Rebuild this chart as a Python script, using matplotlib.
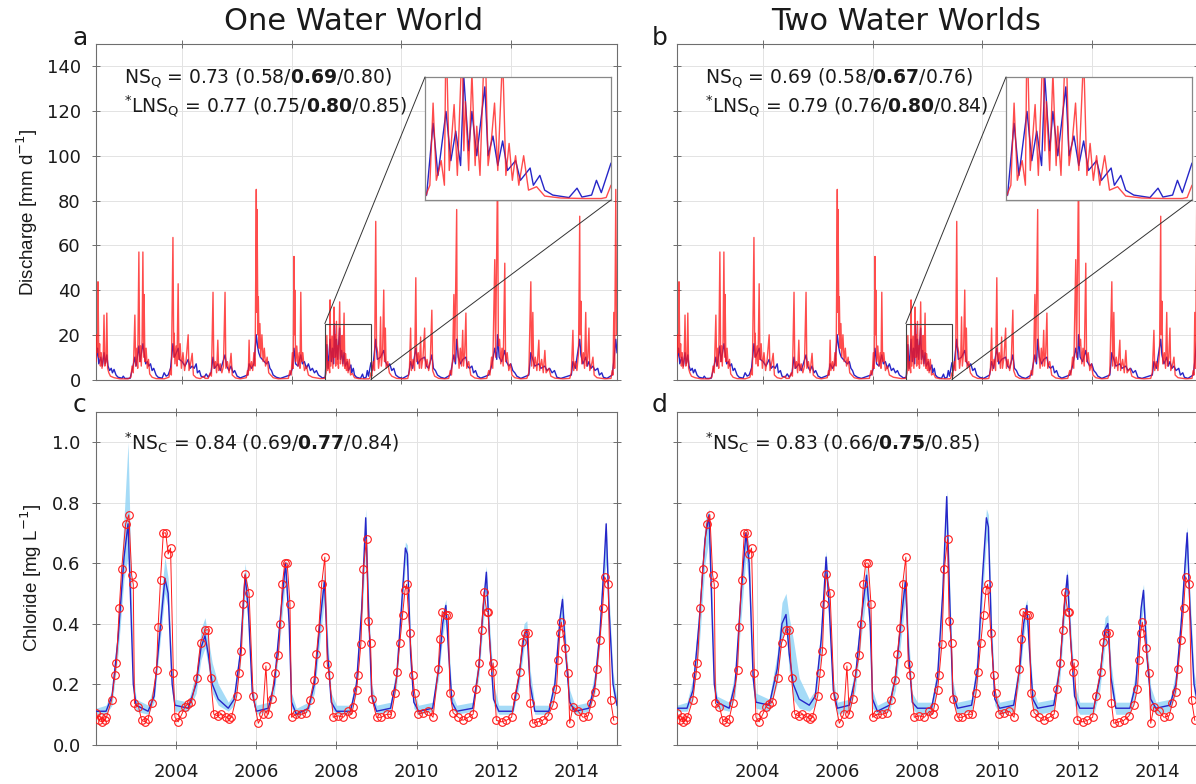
import matplotlib
matplotlib.use("Agg")
import matplotlib.pyplot as plt
from matplotlib.patches import Rectangle, ConnectionPatch
import numpy as np

plt.rcParams['font.family'] = ['DejaVu Sans']
plt.rcParams['mathtext.fontset'] = 'dejavusans'

# ---------------- data (decimal years) ----------------
titles = ["One Water World", "Two Water Worlds"]
panel_letters = ["a", "b", "c", "d"]
ns_q_text = [r"NS$_{\mathrm{Q}}$ = 0.73 (0.58/$\mathbf{0.69}$/0.80)",
             r"NS$_{\mathrm{Q}}$ = 0.69 (0.58/$\mathbf{0.67}$/0.76)"]
lns_q_text = [r"$^{*}$LNS$_{\mathrm{Q}}$ = 0.77 (0.75/$\mathbf{0.80}$/0.85)",
              r"$^{*}$LNS$_{\mathrm{Q}}$ = 0.79 (0.76/$\mathbf{0.80}$/0.84)"]
ns_c_text = [r"$^{*}$NS$_{\mathrm{C}}$ = 0.84 (0.69/$\mathbf{0.77}$/0.84)",
             r"$^{*}$NS$_{\mathrm{C}}$ = 0.83 (0.66/$\mathbf{0.75}$/0.85)"]
year_ticks = [2004, 2006, 2008, 2010, 2012, 2014]
q_grid_ticks = [2004.144, 2006.882, 2009.620, 2012.358]   # datenum 732000..735000
zoom_window = [2007.71, 2008.86]
zoom_qmax = 25

# observed discharge (peaks and troughs), mm/d
q_obs_t = [2002.00, 2002.02, 2002.04, 2002.05, 2002.07, 2002.09, 2002.11, 2002.13, 2002.15, 2002.18, 2002.20, 2002.22, 2002.25, 2002.27, 2002.29, 2002.32, 2002.36, 2002.45, 2002.60, 2002.80,
           2002.87, 2002.90, 2002.93, 2002.97, 2002.99, 2003.02, 2003.04, 2003.07, 2003.09, 2003.11, 2003.13, 2003.15, 2003.17, 2003.19, 2003.20, 2003.22, 2003.25, 2003.28, 2003.31, 2003.34, 2003.40, 2003.50, 2003.70,
           2003.82, 2003.86, 2003.88, 2003.92, 2003.94, 2003.95, 2003.97, 2004.00, 2004.02, 2004.05, 2004.07, 2004.10, 2004.13, 2004.17, 2004.21, 2004.25, 2004.30, 2004.32, 2004.36, 2004.40, 2004.43, 2004.50, 2004.60, 2004.70, 2004.72,
           2004.80, 2004.85, 2004.88, 2004.92, 2004.94, 2004.98, 2005.01, 2005.04, 2005.06, 2005.10, 2005.14, 2005.18, 2005.22, 2005.24, 2005.28, 2005.32, 2005.37, 2005.40, 2005.48, 2005.60,
           2005.75, 2005.78, 2005.80, 2005.82, 2005.84, 2005.88, 2005.91, 2005.94, 2005.97, 2006.00, 2006.01, 2006.02, 2006.04, 2006.05, 2006.07, 2006.09, 2006.11, 2006.14, 2006.17, 2006.20, 2006.23, 2006.27, 2006.31, 2006.36, 2006.42, 2006.55,
           2006.80, 2006.84, 2006.87, 2006.90, 2006.92, 2006.94, 2006.95, 2006.96, 2006.98, 2007.01, 2007.04, 2007.07, 2007.09, 2007.11, 2007.13, 2007.16, 2007.20, 2007.25, 2007.30, 2007.40, 2007.60,
           2007.71, 2007.74, 2007.76, 2007.78, 2007.81, 2007.83, 2007.84, 2007.86, 2007.89, 2007.91, 2007.94, 2007.95, 2007.96, 2007.98, 2008.00, 2008.02, 2008.03, 2008.05, 2008.08, 2008.10, 2008.12, 2008.14, 2008.16, 2008.19, 2008.21, 2008.23, 2008.25, 2008.27, 2008.29, 2008.32, 2008.35, 2008.40, 2008.45, 2008.55, 2008.70, 2008.80,
           2008.83, 2008.86, 2008.88, 2008.92, 2008.95, 2008.98, 2009.00, 2009.03, 2009.05, 2009.08, 2009.10, 2009.12, 2009.15, 2009.18, 2009.20, 2009.22, 2009.24, 2009.28, 2009.32, 2009.38, 2009.50, 2009.70,
           2009.78, 2009.82, 2009.85, 2009.87, 2009.91, 2009.95, 2009.98, 2010.00, 2010.04, 2010.07, 2010.10, 2010.12, 2010.16, 2010.20, 2010.22, 2010.26, 2010.30, 2010.34, 2010.38, 2010.40, 2010.45, 2010.55, 2010.70,
           2010.80, 2010.84, 2010.87, 2010.90, 2010.93, 2010.95, 2011.00, 2011.01, 2011.03, 2011.06, 2011.09, 2011.12, 2011.15, 2011.17, 2011.20, 2011.23, 2011.25, 2011.30, 2011.35, 2011.45, 2011.60,
           2011.75, 2011.80, 2011.83, 2011.87, 2011.90, 2011.95, 2011.97, 2012.02, 2012.04, 2012.07, 2012.10, 2012.13, 2012.16, 2012.20, 2012.22, 2012.26, 2012.30, 2012.34, 2012.38, 2012.45, 2012.60,
           2012.75, 2012.80, 2012.85, 2012.87, 2012.90, 2012.92, 2012.96, 2013.00, 2013.05, 2013.07, 2013.12, 2013.16, 2013.20, 2013.23, 2013.30, 2013.35, 2013.45, 2013.65,
           2013.82, 2013.86, 2013.90, 2013.92, 2013.96, 2014.00, 2014.04, 2014.07, 2014.08, 2014.10, 2014.12, 2014.16, 2014.19, 2014.22, 2014.24, 2014.27, 2014.30, 2014.32, 2014.36, 2014.40, 2014.43, 2014.50, 2014.70,
           2014.85, 2014.88, 2014.90, 2014.92, 2014.94, 2014.97, 2014.99, 2015.00]
q_obs_v = [8, 20, 12, 43.7, 10, 16, 6, 12, 5, 10, 28.8, 6, 8, 29.7, 5, 3, 1.5, 0.8, 0.3, 0.3,
           1, 6, 3, 28.8, 6, 14, 5, 57, 8, 15, 6, 18, 57, 10, 38, 8, 14, 5, 9, 2.5, 1, 0.4, 0.3,
           1, 5, 2, 63.5, 10, 20.7, 7, 15, 6, 42.8, 9, 16, 5, 12, 4, 9, 20, 4, 7, 11.7, 2, 0.8, 0.4, 1.5, 0.5,
           0.5, 3, 1.5, 39, 5, 8, 3, 17.6, 4, 7, 3, 6, 39, 5, 8, 3, 11.7, 2, 0.7, 0.3,
           0.8, 4, 2, 17.6, 4, 8, 4, 12, 6, 85, 30, 76, 20, 37, 14, 25, 10, 20, 8, 14, 6, 10, 3, 2, 0.8, 0.3,
           0.5, 4, 2, 12, 5, 55, 20, 40, 8, 15, 6, 12, 5, 39, 8, 12, 4, 6, 2, 1, 0.4,
           0.5, 3, 19.7, 4, 8, 3, 35.6, 6, 19.4, 5, 32.4, 10, 20, 6, 26, 7, 15, 5, 34.7, 7, 12, 19.7, 6, 29.7, 5, 11.5, 4, 9, 3, 9, 2, 2.7, 0.8, 0.4, 0.3, 0.3,
           0.5, 3, 1.5, 8, 4, 70.7, 15, 12, 5, 10, 28, 6, 12, 40, 8, 23, 5, 8, 3, 1.5, 0.5, 0.3,
           0.5, 4, 23, 4, 9, 4, 45.5, 8, 12, 5, 19, 5, 10, 23, 5, 9, 4, 8, 31, 4, 1.5, 0.5, 0.3,
           0.5, 4, 2, 10, 38, 8, 76, 20, 12, 5, 14, 6, 22, 6, 12, 29.7, 5, 8, 2, 0.7, 0.3,
           0.5, 4, 2, 10, 5, 53.6, 10, 95, 15, 18, 7, 14, 6, 52, 8, 12, 4, 7, 2, 0.8, 0.3,
           0.5, 3, 43.7, 6, 30, 5, 10, 4, 17.6, 4, 9, 3, 13, 3, 5, 1.5, 0.6, 0.3,
           0.5, 3, 22, 4, 8, 4, 12, 73, 20, 35, 7, 12, 5, 30, 6, 10, 23, 4, 6, 10, 2, 0.8, 0.3,
           0.5, 4, 2, 30, 5, 85, 20, 30]

# modelled discharge (median), mm/d
q_mod_t = [2002.00, 2002.04, 2002.07, 2002.12, 2002.16, 2002.20, 2002.23, 2002.27, 2002.30, 2002.34, 2002.38, 2002.41, 2002.45, 2002.50, 2002.55, 2002.65, 2002.68, 2002.72, 2002.85,
           2002.90, 2002.97, 2003.00, 2003.07, 2003.10, 2003.17, 2003.20, 2003.24, 2003.28, 2003.32, 2003.36, 2003.40, 2003.44, 2003.50, 2003.55, 2003.65,
           2003.70, 2003.75, 2003.80, 2003.86, 2003.92, 2003.96, 2004.05, 2004.08, 2004.15, 2004.22, 2004.30, 2004.35, 2004.40, 2004.45, 2004.50, 2004.53, 2004.58, 2004.62, 2004.70, 2004.75, 2004.80,
           2004.87, 2004.92, 2004.96, 2005.04, 2005.10, 2005.22, 2005.26, 2005.32, 2005.37, 2005.42, 2005.46, 2005.52, 2005.60,
           2005.78, 2005.82, 2005.88, 2005.94, 2006.00, 2006.03, 2006.06, 2006.10, 2006.15, 2006.20, 2006.25, 2006.30, 2006.34, 2006.38, 2006.42, 2006.50, 2006.60,
           2006.84, 2006.90, 2006.94, 2006.98, 2007.04, 2007.11, 2007.15, 2007.20, 2007.25, 2007.30, 2007.35, 2007.40, 2007.45, 2007.50, 2007.55, 2007.65,
           2007.72, 2007.76, 2007.79, 2007.84, 2007.87, 2007.90, 2007.93, 2007.95, 2007.98, 2008.00, 2008.03, 2008.08, 2008.10, 2008.13, 2008.16, 2008.19, 2008.22, 2008.27, 2008.30, 2008.36, 2008.38, 2008.42, 2008.45, 2008.50, 2008.60, 2008.65, 2008.68, 2008.74, 2008.77, 2008.80, 2008.86,
           2008.90, 2008.98, 2009.02, 2009.10, 2009.18, 2009.22, 2009.28, 2009.33, 2009.38, 2009.43, 2009.48, 2009.55, 2009.65,
           2009.80, 2009.85, 2009.90, 2009.98, 2010.03, 2010.10, 2010.20, 2010.25, 2010.30, 2010.38, 2010.42, 2010.47, 2010.52, 2010.60, 2010.70,
           2010.84, 2010.93, 2010.97, 2011.00, 2011.04, 2011.10, 2011.15, 2011.23, 2011.27, 2011.32, 2011.38, 2011.42, 2011.47, 2011.52, 2011.60,
           2011.80, 2011.87, 2011.95, 2012.00, 2012.02, 2012.06, 2012.12, 2012.20, 2012.24, 2012.30, 2012.35, 2012.40, 2012.45, 2012.50, 2012.60,
           2012.80, 2012.85, 2012.90, 2012.95, 2013.05, 2013.10, 2013.20, 2013.25, 2013.32, 2013.38, 2013.44, 2013.50, 2013.60,
           2013.86, 2013.90, 2013.96, 2014.07, 2014.10, 2014.15, 2014.22, 2014.26, 2014.30, 2014.35, 2014.40, 2014.45, 2014.52, 2014.56, 2014.62, 2014.66, 2014.75,
           2014.88, 2014.92, 2014.97, 2015.00]
q_mod_v = [8, 14, 7, 10, 6, 12, 7, 11, 6, 4, 5, 3, 4.5, 2, 1, 0.6, 1.5, 0.5, 0.5,
           4, 10, 6, 15, 8, 16, 12, 7, 8, 6, 7, 4, 5, 2, 1, 0.6,
           3, 1.5, 2, 5, 16, 10, 14, 9, 8, 6, 9, 5, 6, 5, 7, 3, 4, 1.5, 1, 2.5, 1,
           3, 10, 5, 7, 4, 11, 6, 4, 6, 3, 4, 1.5, 0.7,
           2, 7, 5, 7, 20, 15, 12, 10, 9, 8, 7, 8, 5, 4, 2, 1, 0.5,
           2, 5, 14, 7, 6, 11, 7, 8, 5, 7, 4, 5, 3, 4, 2, 0.7,
           1, 15.6, 5, 18, 8, 14, 7, 25, 10, 18, 9, 23, 9, 13, 7, 12, 6, 8, 4, 6.5, 3, 5, 2, 1, 0.5, 2.4, 0.6, 1, 4, 1.5, 7.5,
           4, 18, 9, 10, 13, 8, 6, 7, 4, 5, 2, 1, 0.5,
           2, 8, 5, 14, 7, 9, 10, 6, 5, 11, 5, 4, 2, 1, 0.5,
           2, 11, 7, 18, 10, 7, 9, 10, 6, 5, 6, 3, 4, 1.5, 0.6,
           2, 6, 14, 9, 20, 10, 8, 13, 8, 6, 7, 4, 3, 1.5, 0.5,
           2, 12, 9, 6, 7, 5, 6, 4, 5, 3, 4, 1, 0.5,
           2, 8, 5, 18, 11, 7, 10, 6, 8, 5, 6, 4, 5, 2, 3, 1, 0.5,
           2, 8, 18, 12]

# observed chloride, mg/L
cl_obs_t = [2002.00, 2002.08, 2002.12, 2002.16, 2002.22, 2002.26, 2002.39, 2002.47, 2002.51, 2002.58, 2002.64, 2002.74, 2002.82, 2002.89, 2002.93, 2002.96,
            2003.06, 2003.14, 2003.22, 2003.30, 2003.39, 2003.51, 2003.55, 2003.61, 2003.68, 2003.74, 2003.80, 2003.86, 2003.93, 2003.97,
            2004.05, 2004.14, 2004.22, 2004.30, 2004.38, 2004.51, 2004.61, 2004.72, 2004.80, 2004.86, 2004.94,
            2005.04, 2005.13, 2005.25, 2005.33, 2005.38, 2005.51, 2005.57, 2005.63, 2005.67, 2005.72, 2005.82, 2005.92,
            2006.05, 2006.16, 2006.24, 2006.30, 2006.38, 2006.46, 2006.55, 2006.60, 2006.65, 2006.71, 2006.77, 2006.84, 2006.88,
            2007.00, 2007.12, 2007.25, 2007.34, 2007.44, 2007.50, 2007.56, 2007.63, 2007.71, 2007.77, 2007.82, 2007.92,
            2008.04, 2008.17, 2008.30, 2008.38, 2008.42, 2008.50, 2008.54, 2008.61, 2008.67, 2008.75, 2008.79, 2008.85, 2008.89,
            2009.00, 2009.12, 2009.25, 2009.37, 2009.46, 2009.51, 2009.58, 2009.65, 2009.71, 2009.75, 2009.83, 2009.90, 2009.95,
            2010.04, 2010.16, 2010.29, 2010.41, 2010.54, 2010.58, 2010.64, 2010.73, 2010.79, 2010.83, 2010.91,
            2011.04, 2011.16, 2011.29, 2011.41, 2011.49, 2011.56, 2011.62, 2011.68, 2011.75, 2011.78, 2011.87, 2011.91, 2011.99,
            2012.12, 2012.24, 2012.37, 2012.45, 2012.57, 2012.64, 2012.70, 2012.78, 2012.84, 2012.90,
            2013.03, 2013.15, 2013.28, 2013.40, 2013.49, 2013.53, 2013.57, 2013.61, 2013.70, 2013.78, 2013.82, 2013.90,
            2014.03, 2014.15, 2014.28, 2014.36, 2014.44, 2014.50, 2014.57, 2014.64, 2014.69, 2014.78, 2014.84, 2014.92]
cl_obs_v = [0.105, 0.08, 0.09, 0.075, 0.08, 0.09, 0.147, 0.23, 0.27, 0.45, 0.58, 0.73, 0.76, 0.56, 0.53, 0.136,
            0.125, 0.08, 0.075, 0.085, 0.136, 0.246, 0.39, 0.545, 0.70, 0.70, 0.63, 0.65, 0.235, 0.09,
            0.075, 0.10, 0.125, 0.135, 0.14, 0.22, 0.337, 0.378, 0.38, 0.22, 0.10,
            0.095, 0.10, 0.09, 0.085, 0.09, 0.16, 0.236, 0.31, 0.466, 0.565, 0.50, 0.16,
            0.07, 0.10, 0.26, 0.10, 0.15, 0.236, 0.296, 0.40, 0.53, 0.60, 0.60, 0.466, 0.09,
            0.10, 0.10, 0.105, 0.147, 0.213, 0.30, 0.384, 0.53, 0.62, 0.266, 0.23, 0.09,
            0.095, 0.09, 0.11, 0.10, 0.125, 0.18, 0.23, 0.334, 0.58, 0.68, 0.41, 0.336, 0.15,
            0.09, 0.09, 0.10, 0.10, 0.17, 0.24, 0.336, 0.43, 0.51, 0.53, 0.37, 0.23, 0.17,
            0.10, 0.105, 0.11, 0.09, 0.25, 0.35, 0.44, 0.43, 0.43, 0.17, 0.105,
            0.09, 0.08, 0.09, 0.10, 0.185, 0.27, 0.38, 0.505, 0.44, 0.44, 0.24, 0.27, 0.08,
            0.075, 0.08, 0.09, 0.16, 0.24, 0.34, 0.37, 0.37, 0.136, 0.07,
            0.075, 0.08, 0.095, 0.13, 0.185, 0.28, 0.37, 0.405, 0.32, 0.235, 0.07, 0.125,
            0.11, 0.09, 0.095, 0.136, 0.175, 0.25, 0.345, 0.45, 0.555, 0.53, 0.146, 0.08]

# modelled chloride, One Water World: median, lower and upper bound
cl_m1_t = [2002.00, 2002.25, 2002.40, 2002.55, 2002.70, 2002.80, 2002.87, 2002.93, 2003.00, 2003.30, 2003.45, 2003.60, 2003.72, 2003.80, 2003.90, 2003.97,
           2004.30, 2004.50, 2004.62, 2004.72, 2004.80, 2004.90, 2005.05, 2005.30, 2005.45, 2005.60, 2005.72, 2005.80, 2005.90,
           2006.00, 2006.30, 2006.45, 2006.60, 2006.73, 2006.82, 2006.88, 2007.00, 2007.30, 2007.45, 2007.60, 2007.70, 2007.78, 2007.87,
           2008.00, 2008.35, 2008.50, 2008.63, 2008.73, 2008.80, 2008.88, 2009.00, 2009.35, 2009.50, 2009.62, 2009.72, 2009.77, 2009.85, 2009.93,
           2010.05, 2010.40, 2010.55, 2010.65, 2010.73, 2010.80, 2010.88, 2011.00, 2011.40, 2011.55, 2011.66, 2011.74, 2011.82, 2011.92,
           2012.05, 2012.40, 2012.55, 2012.68, 2012.75, 2012.83, 2012.95, 2013.30, 2013.45, 2013.58, 2013.64, 2013.72, 2013.82, 2013.95,
           2014.30, 2014.45, 2014.58, 2014.68, 2014.73, 2014.80, 2014.90, 2015.00]
cl_m1_v = [0.11, 0.11, 0.16, 0.35, 0.62, 0.73, 0.45, 0.20, 0.13, 0.11, 0.16, 0.38, 0.55, 0.50, 0.20, 0.13,
           0.12, 0.20, 0.32, 0.36, 0.30, 0.20, 0.15, 0.12, 0.15, 0.30, 0.56, 0.45, 0.17,
           0.11, 0.12, 0.20, 0.42, 0.60, 0.40, 0.14, 0.10, 0.12, 0.20, 0.42, 0.54, 0.30, 0.14,
           0.11, 0.11, 0.20, 0.45, 0.75, 0.45, 0.16, 0.11, 0.12, 0.22, 0.45, 0.65, 0.63, 0.30, 0.14,
           0.11, 0.12, 0.25, 0.40, 0.46, 0.30, 0.14, 0.11, 0.12, 0.25, 0.45, 0.57, 0.35, 0.15,
           0.11, 0.11, 0.22, 0.36, 0.38, 0.20, 0.11, 0.11, 0.20, 0.42, 0.48, 0.30, 0.14, 0.11,
           0.12, 0.20, 0.38, 0.60, 0.73, 0.45, 0.20, 0.13]
cl_m1_lo = [0.10, 0.10, 0.13, 0.30, 0.55, 0.62, 0.40, 0.17, 0.11, 0.10, 0.14, 0.34, 0.50, 0.45, 0.17, 0.11,
            0.11, 0.17, 0.28, 0.32, 0.26, 0.17, 0.13, 0.11, 0.13, 0.26, 0.50, 0.40, 0.15,
            0.10, 0.11, 0.17, 0.36, 0.55, 0.35, 0.12, 0.09, 0.11, 0.17, 0.36, 0.48, 0.26, 0.12,
            0.10, 0.10, 0.17, 0.40, 0.65, 0.40, 0.14, 0.10, 0.11, 0.19, 0.40, 0.60, 0.58, 0.26, 0.12,
            0.10, 0.11, 0.22, 0.36, 0.42, 0.26, 0.12, 0.10, 0.11, 0.22, 0.40, 0.50, 0.30, 0.13,
            0.10, 0.10, 0.19, 0.32, 0.35, 0.17, 0.10, 0.10, 0.17, 0.37, 0.42, 0.26, 0.12, 0.10,
            0.11, 0.17, 0.34, 0.55, 0.60, 0.40, 0.17, 0.11]
cl_m1_hi = [0.12, 0.13, 0.18, 0.40, 0.75, 1.00, 0.60, 0.25, 0.15, 0.13, 0.20, 0.45, 0.62, 0.55, 0.25, 0.15,
            0.14, 0.24, 0.38, 0.42, 0.35, 0.27, 0.20, 0.14, 0.17, 0.34, 0.60, 0.50, 0.20,
            0.13, 0.14, 0.23, 0.46, 0.62, 0.45, 0.17, 0.12, 0.14, 0.24, 0.48, 0.58, 0.36, 0.17,
            0.13, 0.13, 0.23, 0.50, 0.78, 0.50, 0.20, 0.13, 0.14, 0.26, 0.50, 0.67, 0.66, 0.35, 0.17,
            0.13, 0.14, 0.30, 0.44, 0.48, 0.34, 0.17, 0.13, 0.14, 0.30, 0.50, 0.59, 0.40, 0.20,
            0.13, 0.13, 0.26, 0.40, 0.41, 0.25, 0.13, 0.13, 0.23, 0.45, 0.50, 0.35, 0.18, 0.13,
            0.14, 0.24, 0.44, 0.65, 0.74, 0.50, 0.24, 0.15]

# modelled chloride, Two Water Worlds: median, lower and upper bound
cl_m2_t = cl_m1_t
cl_m2_v = [0.12, 0.12, 0.18, 0.40, 0.68, 0.76, 0.45, 0.20, 0.14, 0.12, 0.20, 0.50, 0.70, 0.60, 0.22, 0.14,
           0.13, 0.25, 0.40, 0.43, 0.30, 0.20, 0.15, 0.13, 0.16, 0.35, 0.62, 0.45, 0.18,
           0.12, 0.13, 0.22, 0.42, 0.56, 0.40, 0.15, 0.11, 0.13, 0.22, 0.42, 0.54, 0.30, 0.14,
           0.12, 0.12, 0.22, 0.50, 0.82, 0.50, 0.17, 0.12, 0.13, 0.25, 0.55, 0.75, 0.72, 0.35, 0.15,
           0.12, 0.13, 0.25, 0.40, 0.46, 0.30, 0.15, 0.12, 0.13, 0.25, 0.45, 0.56, 0.35, 0.16,
           0.12, 0.12, 0.22, 0.38, 0.40, 0.22, 0.12, 0.12, 0.20, 0.45, 0.51, 0.30, 0.15, 0.12,
           0.13, 0.20, 0.40, 0.60, 0.70, 0.45, 0.20, 0.13]
cl_m2_lo = [0.11, 0.11, 0.15, 0.32, 0.60, 0.68, 0.38, 0.17, 0.12, 0.11, 0.16, 0.42, 0.62, 0.52, 0.18, 0.12,
            0.11, 0.20, 0.35, 0.38, 0.24, 0.15, 0.12, 0.11, 0.13, 0.30, 0.55, 0.40, 0.15,
            0.10, 0.11, 0.18, 0.36, 0.50, 0.35, 0.12, 0.10, 0.11, 0.18, 0.36, 0.48, 0.26, 0.12,
            0.10, 0.10, 0.18, 0.44, 0.74, 0.44, 0.14, 0.10, 0.11, 0.20, 0.48, 0.68, 0.65, 0.30, 0.13,
            0.10, 0.11, 0.21, 0.36, 0.42, 0.26, 0.12, 0.10, 0.11, 0.21, 0.40, 0.50, 0.30, 0.13,
            0.10, 0.10, 0.18, 0.33, 0.36, 0.18, 0.10, 0.10, 0.16, 0.40, 0.45, 0.26, 0.12, 0.10,
            0.11, 0.17, 0.35, 0.55, 0.62, 0.40, 0.17, 0.11]
cl_m2_hi = [0.13, 0.14, 0.22, 0.45, 0.74, 0.78, 0.55, 0.26, 0.16, 0.14, 0.24, 0.56, 0.72, 0.66, 0.28, 0.17,
            0.15, 0.30, 0.47, 0.50, 0.42, 0.35, 0.22, 0.15, 0.18, 0.40, 0.64, 0.50, 0.22,
            0.14, 0.15, 0.26, 0.46, 0.60, 0.45, 0.18, 0.13, 0.15, 0.26, 0.48, 0.58, 0.36, 0.17,
            0.14, 0.14, 0.26, 0.55, 0.84, 0.55, 0.21, 0.14, 0.15, 0.30, 0.60, 0.78, 0.76, 0.40, 0.18,
            0.14, 0.15, 0.30, 0.44, 0.48, 0.34, 0.18, 0.14, 0.15, 0.30, 0.50, 0.58, 0.40, 0.20,
            0.14, 0.14, 0.26, 0.42, 0.43, 0.27, 0.14, 0.14, 0.24, 0.48, 0.53, 0.36, 0.19, 0.14,
            0.15, 0.24, 0.45, 0.66, 0.72, 0.50, 0.24, 0.16]

# ---------------- styles ----------------
RED = '#ff1a1a'
BLUE = '#2626c8'
BAND = '#8fd3f5'
SPINE = '#6e6e6e'
GRID = '#e3e3e3'
TXT = '#1a1a1a'
NARROW = 'Liberation Sans'

W, H = 1196, 784
fig = plt.figure(figsize=(W / 100, H / 100), dpi=100)

def fr(x0, y0, x1, y1):
    return [x0 / W, 1 - y1 / H, (x1 - x0) / W, (y1 - y0) / H]

ax_q = [fig.add_axes(fr(96, 44, 617, 379.5)), fig.add_axes(fr(677, 44, 1198, 379.5))]
ax_c = [fig.add_axes(fr(96, 412, 617, 744.5)), fig.add_axes(fr(677, 412, 1198, 744.5))]

def style(ax, xt, yt, xlabels, ylabels):
    ax.set_xticks(xt)
    ax.set_yticks(yt)
    ax.grid(True, color=GRID, lw=0.7)
    ax.set_axisbelow(True)
    for s in ax.spines.values():
        s.set_color(SPINE)
        s.set_linewidth(0.8)
    ax.tick_params(direction='inout', length=6, width=0.7, color=SPINE,
                   top=True, right=True, labelsize=13, labelcolor=TXT,
                   labelbottom=xlabels, labelleft=ylabels)
    ax.tick_params(axis='y', pad=8)
    ax.tick_params(axis='x', pad=10)

for i in range(2):
    ax = ax_q[i]
    ax.plot(q_mod_t, q_mod_v, color=BLUE, lw=1.0, zorder=2)
    ax.plot(q_obs_t, q_obs_v, color=RED, lw=1.0, alpha=0.78, zorder=3)
    ax.set_xlim(2002, 2015)
    ax.set_ylim(0, 150)
    style(ax, q_grid_ticks, np.arange(0, 141, 20), False, i == 0)
    ax.set_xticklabels([])
    ax.text(0.054, 0.884, ns_q_text[i], transform=ax.transAxes, fontsize=13.5,
            color=TXT, va='baseline', ha='left')
    ax.text(0.054, 0.797, lns_q_text[i], transform=ax.transAxes, fontsize=13.5,
            color=TXT, va='baseline', ha='left')
    # zoom box + inset
    ax.add_patch(Rectangle((zoom_window[0], 0), zoom_window[1] - zoom_window[0], zoom_qmax,
                           fill=False, ec='#444444', lw=0.8, zorder=4))
    x0 = 425 if i == 0 else 1006
    ins = fig.add_axes(fr(x0, 77, x0 + 186, 200))
    ins.plot(q_mod_t, q_mod_v, color=BLUE, lw=1.0)
    ins.plot(q_obs_t, q_obs_v, color=RED, lw=1.0, alpha=0.78)
    ins.set_xlim(*zoom_window)
    ins.set_ylim(0, zoom_qmax)
    ins.set_xticks([])
    ins.set_yticks([])
    for s in ins.spines.values():
        s.set_color('#888888')
        s.set_linewidth(0.9)
    for xyA, xyB in [((zoom_window[0], zoom_qmax), (0, 1)), ((zoom_window[1], 0), (1, 0))]:
        cp = ConnectionPatch(xyA=xyA, coordsA=ax.transData, xyB=xyB, coordsB=ins.transAxes,
                             color='#333333', lw=0.7)
        fig.add_artist(cp)

cl_models = [(cl_m1_t, cl_m1_v, cl_m1_lo, cl_m1_hi), (cl_m2_t, cl_m2_v, cl_m2_lo, cl_m2_hi)]
for i in range(2):
    ax = ax_c[i]
    t, v, lo, hi = cl_models[i]
    ax.fill_between(t, lo, hi, color=BAND, alpha=0.8, lw=0, zorder=2)
    ax.plot(t, v, color=BLUE, lw=1.0, zorder=3)
    ax.plot(cl_obs_t, cl_obs_v, color=RED, lw=0.7, zorder=4, marker='o', ms=5.5,
            mfc='none', mec=RED, mew=0.8)
    ax.set_xlim(2002, 2015)
    ax.set_ylim(0, 1.1)
    style(ax, year_ticks, np.arange(0, 1.01, 0.2), True, i == 0)
    ax.set_xticklabels([str(y) for y in year_ticks])
    if i == 0:
        ax.set_yticklabels(['%.1f' % y for y in np.arange(0, 1.01, 0.2)])
    ax.text(0.054, 0.886, ns_c_text[i], transform=ax.transAxes, fontsize=13.5,
            color=TXT, va='baseline', ha='left')

ax_q[0].set_ylabel(r"Discharge [mm d$^{-1}$]", fontsize=13.5, color=TXT, family=NARROW)
ax_c[0].set_ylabel(r"Chloride [mg L$^{-1}$]", fontsize=13.5, color=TXT, family=NARROW)
ax_q[0].yaxis.set_label_coords(-(96 - 40) / 521, 0.5)
ax_c[0].yaxis.set_label_coords(-(96 - 44) / 521, 0.5)

fig.text(354 / W, 1 - 22 / H, titles[0], fontsize=22, ha='center', va='center', color=TXT)
fig.text(906 / W, 1 - 22 / H, titles[1], fontsize=22, ha='center', va='center', color=TXT)
for (lx, ly), s in zip([(80, 38), (660, 38), (80, 405), (660, 405)], panel_letters):
    fig.text(lx / W, 1 - ly / H, s, fontsize=18, ha='center', va='center', color=TXT)

fig.savefig("out.png", dpi=100)
